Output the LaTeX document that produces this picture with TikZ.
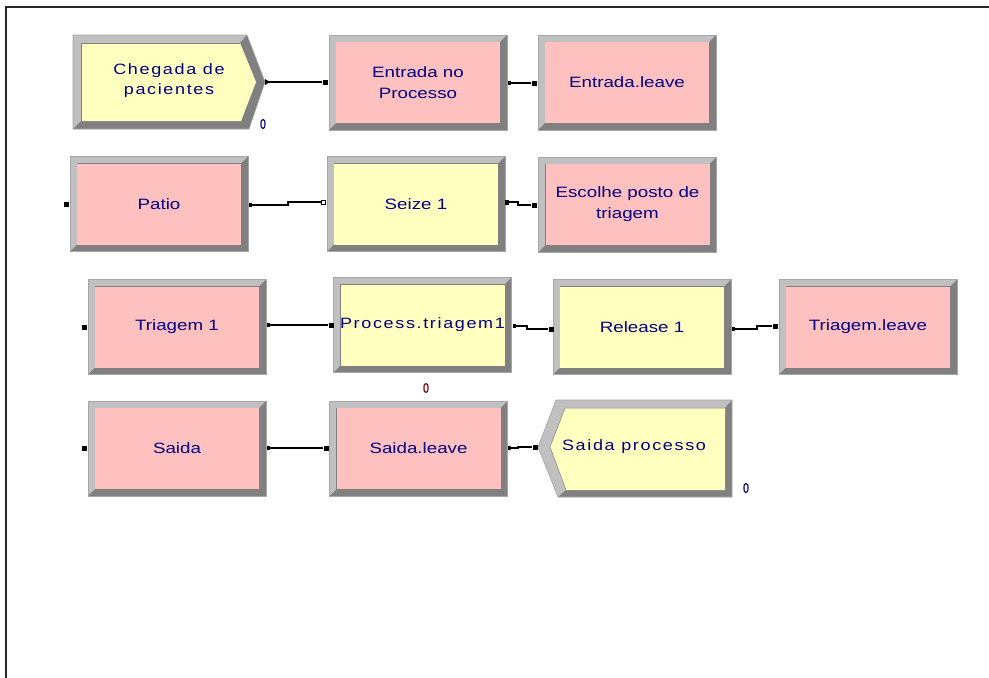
\documentclass[tikz,border=0pt]{standalone}
\usepackage{fontspec}
\setmainfont{Liberation Sans}
\newfontfamily\modfont[FakeStretch=1.25]{Liberation Sans}
\newfontfamily\spfont[FakeStretch=1.2,LetterSpace=11]{Liberation Sans}
\newfontfamily\cntfont[FakeStretch=0.75,FakeBold=1]{Liberation Sans}
\usetikzlibrary{backgrounds}
\definecolor{pinkf}{RGB}{255,192,192}
\definecolor{yelf}{RGB}{255,255,192}
\definecolor{bevL}{RGB}{192,192,192}
\definecolor{bevD}{RGB}{128,128,128}
\definecolor{txtc}{RGB}{0,0,128}
\definecolor{cntred}{RGB}{128,0,0}
\tikzset{
  mod/.style={rectangle, minimum width=164pt, minimum height=81pt, inner sep=0pt,
    font=\modfont\fontsize{15}{21}\selectfont, text=txtc, align=center},
  pinkmod/.style={mod, fill=pinkf},
  yelmod/.style={mod, fill=yelf},
  sptext/.style={font=\spfont\fontsize{15}{20}\selectfont, text=txtc, align=center, inner sep=0pt},
  cnt/.style={font=\cntfont\fontsize{14}{14}\selectfont, inner sep=0pt},
  conn/.style={line width=1.1pt, black},
  entrymark/.style={fill=black, minimum size=5pt, inner sep=0pt, rectangle},
  exitmark/.style={fill=black, minimum width=3pt, minimum height=4pt, inner sep=0pt, rectangle},
  frameline/.style={line width=2pt, black!85}
}
\newcommand\modbevel[1]{%
  \fill[bevL] ([shift={(-7pt,-7pt)}]#1.south west) rectangle ([shift={(7pt,7pt)}]#1.north east);
  \fill[bevD] ([shift={(-7pt,-7pt)}]#1.south west) -- ([shift={(7pt,-7pt)}]#1.south east)
     -- ([shift={(7pt,7pt)}]#1.north east) -- (#1.north east) -- (#1.south east) -- (#1.south west) -- cycle;
  \draw[black!35, line width=0.6pt] ([shift={(-7pt,-7pt)}]#1.south west) rectangle ([shift={(7pt,7pt)}]#1.north east);
  \draw[bevD, line width=0.5pt] (#1.south west) -- (#1.north west) -- (#1.north east);
}
\begin{document}
\begin{tikzpicture}[x=1pt, y=-1pt]
\useasboundingbox (0,0) rectangle (989,678);
\begin{pgfonlayer}{background}
\fill[white] (0,0) rectangle (989,678);
\end{pgfonlayer}
\draw[frameline] (6,678) -- (6,7) -- (989,7);

% ---------- Create module (Chegada) ----------
\fill[bevL] (73,35) -- (247,35) -- (265,82) -- (249,129) -- (73,129) -- cycle;
\fill[bevD] (247,35) -- (265,82) -- (249,129) -- (73,129) -- (81,121) -- (241,121) -- (256,82) -- (240,43) -- cycle;
\fill[yelf] (81,43) -- (240,43) -- (256,82) -- (241,121) -- (81,121) -- cycle;
\draw[black!35, line width=0.6pt] (73,35) -- (247,35) -- (265,82) -- (249,129) -- (73,129) -- cycle;
\draw[bevD, line width=0.5pt] (81,121) -- (81,43) -- (240,43);
\node[sptext] (chegada) at (169,81) {Chegada de\\pacientes};

% ---------- Dispose module (Saida processo) ----------
\fill[bevL] (538,447) -- (556,400) -- (732,400) -- (732,497) -- (558,497) -- cycle;
\fill[bevD] (732,400) -- (732,497) -- (558,497) -- (566,490) -- (725,490) -- (725,408) -- cycle;
\fill[yelf] (550,447) -- (565,408) -- (725,408) -- (725,490) -- (566,490) -- cycle;
\draw[black!35, line width=0.6pt] (538,447) -- (556,400) -- (732,400) -- (732,497) -- (558,497) -- cycle;
\draw[bevD, line width=0.5pt] (566,490) -- (550,447) -- (565,408) -- (725,408);
\node[sptext] (saidaproc) at (634,447) {Saida processo};

% ---------- Rectangular modules ----------
\node[pinkmod] (entproc) at (418,82.5) {Entrada no\\Processo};
\node[pinkmod] (entleave) at (627,82.5) {Entrada.leave};
\node[pinkmod] (patio) at (159,204) {Patio};
\node[yelmod] (seize) at (416,204) {Seize 1};
\node[pinkmod] (escolhe) at (627.5,204.5) {Escolhe posto de\\triagem};
\node[pinkmod] (triag) at (177,327) {Triagem 1};
\node[yelmod, font=\spfont\fontsize{15}{20}\selectfont] (proc) at (422.5,325) {\hspace*{-3pt}Process.triagem1\hspace*{-3pt}};
\node[yelmod] (release) at (642,327) {Release 1};
\node[pinkmod] (triagleave) at (868,327) {Triagem.leave};
\node[pinkmod] (saida) at (177,448.5) {Saida};
\node[pinkmod] (saidaleave) at (418.5,448.5) {Saida.leave};

\begin{pgfonlayer}{background}
\foreach \n in {entproc,entleave,patio,seize,escolhe,triag,proc,release,triagleave,saida,saidaleave}{\modbevel{\n}}
\end{pgfonlayer}

% ---------- Counters ----------
\node[cnt, text=txtc] (cnt1) at (263,124) {0};
\node[cnt, text=txtc] (cnt2) at (746,488) {0};
\node[cnt, text=cntred] (cnt3) at (426,388) {0};

% ---------- Entry / exit points ----------
\coordinate (chegada-out) at (267,82);
\node[entrymark] (entproc-in) at (325,82) {};
\node[exitmark] (entproc-out) at (509,83) {};
\node[entrymark] (entleave-in) at (534,83) {};

\node[entrymark] (patio-in) at (66,204) {};
\node[exitmark] (patio-out) at (250,205) {};
\node[entrymark, fill=white, draw=black, line width=0.6pt, minimum size=4pt] (seize-in) at (323,202) {};
\node[exitmark, minimum width=4pt, minimum height=5pt] (seize-out) at (507,202) {};
\node[entrymark] (escolhe-in) at (534,205) {};

\node[entrymark] (triag-in) at (84,327) {};
\node[exitmark] (triag-out) at (268,325) {};
\node[entrymark] (proc-in) at (331,325) {};
\node[exitmark] (proc-out) at (514,326) {};
\node[entrymark] (release-in) at (551,329) {};
\node[exitmark] (release-out) at (733,329) {};
\node[entrymark] (triagleave-in) at (775,326) {};

\node[entrymark] (saida-in) at (84,448) {};
\node[exitmark] (saida-out) at (268,448) {};
\node[entrymark] (saidaleave-in) at (326,448) {};
\node[exitmark] (saidaleave-out) at (509,448) {};
\node[entrymark] (saidaproc-in) at (535,447) {};

\fill[black] (265,79) -- (270,82) -- (265,85) -- cycle;

% ---------- Connectors ----------
\draw[conn] (chegada-out) -- (entproc-in);
\draw[conn] (entproc-out) -- (entleave-in);
\draw[conn] (patio-out) -- ++(38pt,0) |- (seize-in);
\draw[conn] (seize-out) -- ++(11pt,0) |- (escolhe-in);
\draw[conn] (triag-out) -- (proc-in);
\draw[conn] (proc-out) -- ++(13pt,0) |- (release-in);
\draw[conn] (release-out) -- ++(24pt,0) |- (triagleave-in);
\draw[conn] (saida-out) -- (saidaleave-in);
\draw[conn] (saidaleave-out) -- ++(9pt,0) |- (saidaproc-in);
\end{tikzpicture}
\end{document}
